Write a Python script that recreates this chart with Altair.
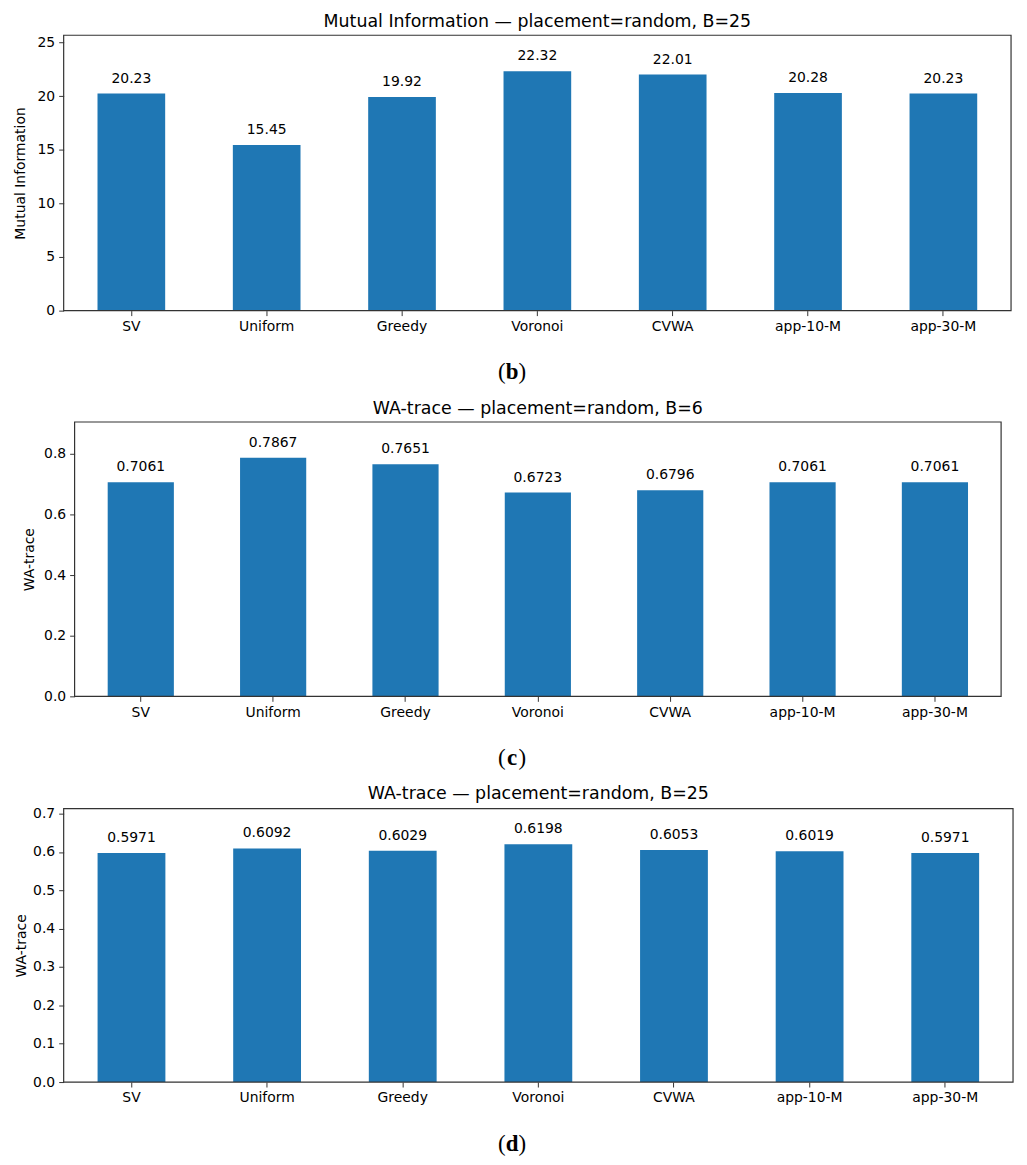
import altair as alt
import pandas as pd

categories = ["SV", "Uniform", "Greedy", "Voronoi", "CVWA", "app-10-M", "app-30-M"]
mi_b25 = [20.23, 15.45, 19.92, 22.32, 22.01, 20.28, 20.23]
wa_b6 = [0.7061, 0.7867, 0.7651, 0.6723, 0.6796, 0.7061, 0.7061]
wa_b25 = [0.5971, 0.6092, 0.6029, 0.6198, 0.6053, 0.6019, 0.5971]

titles = [
    "Mutual Information \u2014 placement=random, B=25",
    "WA-trace \u2014 placement=random, B=6",
    "WA-trace \u2014 placement=random, B=25",
]
ytitles = ["Mutual Information", "WA-trace", "WA-trace"]
letters = ["b", "c", "d"]
ticks_b = [0, 5, 10, 15, 20, 25]
ticks_c = [0.0, 0.2, 0.4, 0.6, 0.8]
ticks_d = [0.0, 0.1, 0.2, 0.3, 0.4, 0.5, 0.6, 0.7]

FONT = "DejaVu Sans"
SERIF = "Liberation Serif"
BLUE = "#1f77b4"
FRAME = "#333333"


def panel(values, title, ytitle, ticks, tickfmt, labfmt, letter,
          width, height, titlepad, cap_x, shift=0, cap_dy=62, title_dx=0):
    df = pd.DataFrame({"cat": categories, "val": values})
    ymax = max(values) * 1.15
    base = alt.Chart(df)
    xscale = alt.Scale(paddingInner=0.5, paddingOuter=0.25)
    if shift:
        xscale = alt.Scale(paddingInner=0.5, paddingOuter=0.25,
                           range=[shift, width])
    x = alt.X("cat:N", sort=categories, title=None, scale=xscale,
              axis=alt.Axis(labelAngle=0, labelFont=FONT, labelFontSize=14,
                            labelColor="black", tickColor=FRAME, tickSize=5,
                            tickWidth=1, labelPadding=4, domain=False))
    axis_kw = dict(values=ticks, format=tickfmt, grid=False,
                   labelFont=FONT, labelFontSize=14, labelColor="black",
                   tickColor=FRAME, tickSize=5, tickWidth=1, labelPadding=4,
                   domain=False, titleFont=FONT, titleFontSize=14,
                   titleFontWeight="normal", titleColor="black",
                   titlePadding=titlepad, labelOverlap=False)
    if shift:
        axis_kw["offset"] = -shift
    y = alt.Y("val:Q", title=ytitle,
              scale=alt.Scale(domain=[0, ymax], nice=False, zero=True),
              axis=alt.Axis(**axis_kw))
    bars = base.mark_bar(color=BLUE).encode(x=x, y=y)
    labels = base.mark_text(font=FONT, fontSize=14, color="black",
                            baseline="alphabetic", dy=-11).encode(
        x=x, y=y, text=alt.Text("val:Q", format=labfmt),
    )
    cap_df = pd.DataFrame({"c": [letter]})
    cap_y = height + cap_dy
    lp = alt.Chart(cap_df).mark_text(text="(", font=SERIF, fontSize=23,
                                     color="black", align="right",
                                     baseline="middle").encode(
        x=alt.value(cap_x - 6.5), y=alt.value(cap_y))
    lb = alt.Chart(cap_df).mark_text(font=SERIF, fontSize=23, fontWeight="bold",
                                     color="black", align="center",
                                     baseline="middle").encode(
        x=alt.value(cap_x), y=alt.value(cap_y), text="c:N")
    rp = alt.Chart(cap_df).mark_text(text=")", font=SERIF, fontSize=23,
                                     color="black", align="left",
                                     baseline="middle").encode(
        x=alt.value(cap_x + 6.5), y=alt.value(cap_y))
    frame = alt.Chart(cap_df).mark_rect(filled=False, stroke=FRAME,
                                        strokeWidth=1.2).encode(
        x=alt.value(shift), x2=alt.value(width),
        y=alt.value(0), y2=alt.value(height))
    layers = [bars, labels, lp, lb, rp, frame]
    return alt.layer(*layers).properties(
        width=width, height=height,
        title=alt.TitleParams(title, font=FONT, fontSize=17.5,
                              fontWeight="normal", color="black", offset=4,
                              dx=title_dx),
    )


X0 = 62
p1 = panel(mi_b25, titles[0], ytitles[0], ticks_b, "d", ".2f", letters[0],
           1015 - X0, 277, 10, 513 - X0)
p2 = panel(wa_b6, titles[1], ytitles[1], ticks_c, ".1f", ".4f", letters[1],
           1005 - X0, 276, 7, 513 - X0, shift=73 - X0, title_dx=5.5)
p3 = panel(wa_b25, titles[2], ytitles[2], ticks_d, ".1f", ".4f", letters[2],
           1017 - X0, 275, 4, 513 - X0, cap_dy=62)

chart = alt.concat(p1, p2, p3, columns=1, spacing=15).properties(
    padding={"left": 5, "top": 1, "right": 5, "bottom": 5}
).configure(background="white").configure_view(strokeOpacity=0)

chart.save("out.html", embed_options={"renderer": "svg", "actions": False})
